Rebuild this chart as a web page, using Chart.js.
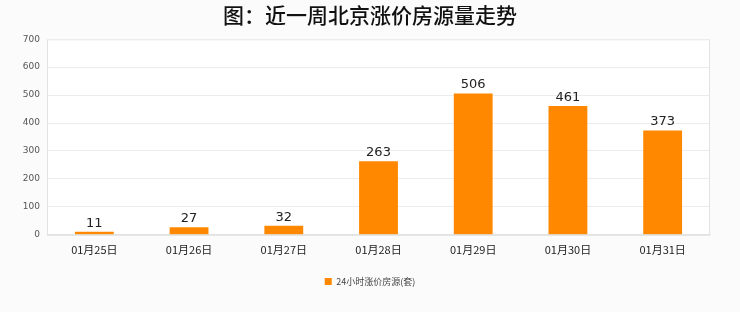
<!DOCTYPE html>
<html><head><meta charset="utf-8">
<script src="https://cdn.jsdelivr.net/npm/chart.js@4"></script>
<style>html,body{margin:0;padding:0;background:#fbfbfb;}#wrap{width:740px;height:312px;position:relative;}</style>
</head><body><div id="wrap"><canvas id="c" width="740" height="312"></canvas></div>
<script>
const title = '图：近一周北京涨价房源量走势';
const categories = ['01月25日','01月26日','01月27日','01月28日','01月29日','01月30日','01月31日'];
const seriesName = '24小时涨价房源(套)';
const values = [11, 27, 32, 263, 506, 461, 373];
const yTicks = [0,100,200,300,400,500,600,700];

const labelPlugin = {
  id: 'labels',
  afterDatasetsDraw(chart) {
    const ctx = chart.ctx;
    const meta = chart.getDatasetMeta(0);
    ctx.save();
    ctx.fillStyle = '#222';
    ctx.font = '13px "DejaVu Sans", sans-serif';
    ctx.textAlign = 'center';
    ctx.textBaseline = 'bottom';
    meta.data.forEach((bar, i) => {
      ctx.fillText(String(values[i]), bar.x, bar.y - 2);
    });
    ctx.restore();
  }
};
const bgPlugin = {
  id: 'plotbg',
  beforeDraw(chart) {
    const {ctx, chartArea: a} = chart;
    ctx.save();
    ctx.fillStyle = '#ffffff';
    ctx.fillRect(a.left, a.top, a.right - a.left, a.bottom - a.top);
    ctx.strokeStyle = '#e2e2e2';
    ctx.lineWidth = 1;
    ctx.strokeRect(a.left + 0.5, a.top + 0.5, a.right - a.left - 1, a.bottom - a.top);
    ctx.restore();
  }
};

new Chart(document.getElementById('c'), {
  type: 'bar',
  data: {
    labels: categories,
    datasets: [{
      label: seriesName,
      data: values,
      backgroundColor: '#ff8800',
      borderWidth: 0,
      categoryPercentage: 1,
      barPercentage: 0.41
    }]
  },
  options: {
    responsive: false,
    animation: false,
    devicePixelRatio: 1,
    layout: { padding: { left: 0, right: 0, top: 0, bottom: 16 } },
    plugins: {
      title: {
        display: true, text: title, color: '#111',
        font: { size: 21, weight: '500', family: '"Noto Sans CJK SC", sans-serif' },
        padding: { top: 2, bottom: 12 }
      },
      legend: {
        position: 'bottom',
        labels: {
          boxWidth: 7, boxHeight: 7, color: '#444',
          font: { size: 9, family: '"Noto Sans CJK SC", sans-serif' },
          padding: 21
        }
      },
      tooltip: { enabled: false }
    },
    scales: {
      x: {
        grid: { display: false },
        border: { color: '#e2e2e2' },
        ticks: { color: '#222', font: { size: 11, family: '"Noto Sans CJK SC", sans-serif' }, padding: 0 }
      },
      y: {
        min: 0, max: 700,
        afterBuildTicks(scale) { scale.ticks = yTicks.map(v => ({ value: v })); },
        afterFit(scale) { scale.width = 47; },
        grid: { color: '#ececec', drawTicks: false },
        border: { display: false },
        ticks: { color: '#555', font: { size: 9, family: '"DejaVu Sans", sans-serif' }, padding: 7 }
      },
      y2: {
        position: 'right',
        min: 0, max: 700,
        afterFit(scale) { scale.width = 30; },
        grid: { display: false, drawTicks: false },
        border: { display: false },
        ticks: { display: false }
      }
    }
  },
  plugins: [bgPlugin, labelPlugin]
});
</script></body></html>
